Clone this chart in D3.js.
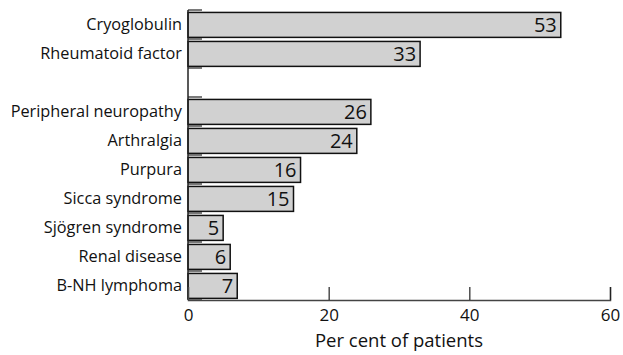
<!DOCTYPE html>
<html><head><meta charset="utf-8">
<script src="https://cdn.jsdelivr.net/npm/d3@7"></script>
<style>
body{margin:0;background:#fff;}
text{font-family:"Open Sans",sans-serif;fill:#111;}
</style></head>
<body><svg id="c" width="623" height="355"></svg>
<script>
const categories = ["Cryoglobulin","Rheumatoid factor","","Peripheral neuropathy","Arthralgia","Purpura","Sicca syndrome","Sjögren syndrome","Renal disease","B-NH lymphoma"];
const values = [53,33,null,26,24,16,15,5,6,7];
const xTicks = [0,20,40,60];
const xTitle = "Per cent of patients";

const svg = d3.select("#c");
const m = {l:188, r:13, t:10, b:55};
const W = 623, H = 355;
const x = d3.scaleLinear().domain([0,60]).range([m.l, W-m.r]);
const y = d3.scaleBand().domain(d3.range(categories.length)).range([m.t, H-m.b]).paddingInner(0.14).paddingOuter(0.07).align(0.6);
const yb = d3.scaleBand().domain(d3.range(categories.length)).range([m.t, H-m.b]);

const data = categories.map((c,i)=>({c, v:values[i], i}));

// bars
svg.selectAll("rect.bar").data(data.filter(d=>d.v!=null)).join("rect")
  .attr("x", x(0)).attr("y", d=>y(d.i)).attr("width", d=>x(d.v)-x(0)).attr("height", y.bandwidth())
  .attr("fill","#d1d1d1").attr("stroke","#111").attr("stroke-width",1.5);

// value labels
svg.selectAll("text.val").data(data.filter(d=>d.v!=null)).join("text")
  .attr("x", d=>x(d.v)-4).attr("y", d=>y(d.i)+y.bandwidth()/2).attr("dy","0.36em")
  .attr("text-anchor","end").style("font-size","20px").text(d=>d.v);

// category labels
svg.selectAll("text.cat").data(data).join("text")
  .attr("x", m.l-6).attr("y", d=>yb(d.i)+yb.bandwidth()/2).attr("dy","0.35em")
  .attr("text-anchor","end").style("font-size","16.3px").text(d=>d.c);

// y axis line & ticks at slot boundaries
const bounds = d3.range(categories.length+1).map(i=> i<categories.length ? yb(i) : yb(categories.length-1)+yb.bandwidth());
svg.append("line").attr("x1",x(0)).attr("x2",x(0)).attr("y1",m.t).attr("y2",H-m.b).attr("stroke","#222").attr("stroke-width",1.5);
svg.selectAll("line.yt").data(bounds).join("line")
  .attr("x1",x(0)).attr("x2",x(0)+14).attr("y1",d=>d).attr("y2",d=>d).attr("stroke","#222").attr("stroke-width",1.2);

// x axis
const xa = svg.append("g").attr("transform",`translate(0,${H-m.b})`)
  .call(d3.axisBottom(x).tickValues(xTicks).tickSize(-13).tickPadding(9).tickFormat(d3.format("d")));
xa.select(".domain").attr("stroke","#444").attr("stroke-width",1.5);
xa.selectAll(".tick line").attr("stroke","#222").attr("stroke-width",1.2);
xa.selectAll(".tick text").style("font-size","17px").style("font-family","Open Sans").attr("fill","#111");
xa.selectAll(".tick").filter(d=>d===0).select("line").remove();

svg.append("text").attr("x",(x(0)+x(60))/2).attr("y",347).attr("text-anchor","middle").style("font-size","18.5px").text(xTitle);
</script></body></html>
